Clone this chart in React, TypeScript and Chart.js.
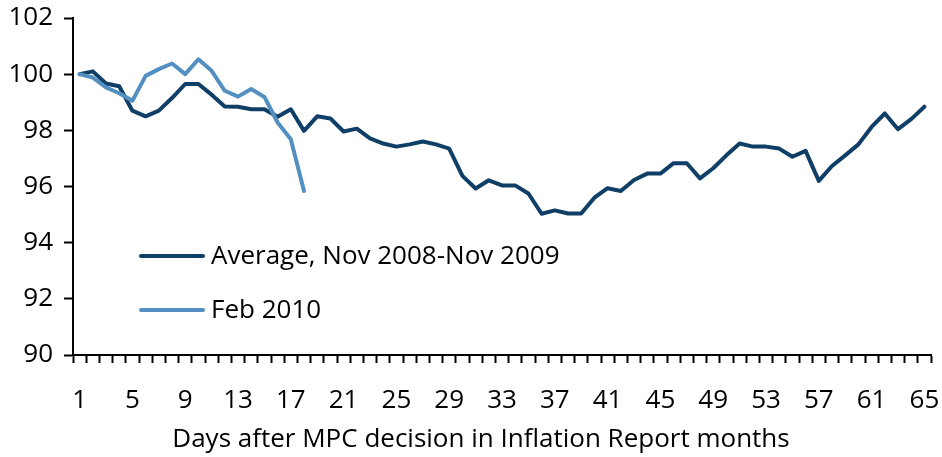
import React, { useEffect, useRef } from "react";
import { Chart, registerables } from "chart.js";

Chart.register(...registerables);

const days: string[] = Array.from({ length: 65 }, (_, i) => String(i + 1));
const xTitle = "Days after MPC decision in Inflation Report months";

const averageLabel = "Average, Nov 2008-Nov 2009";
const averageValues: number[] = [
  100, 100.1, 99.67, 99.57, 98.7, 98.5, 98.7, 99.15, 99.65, 99.65,
  99.27, 98.85, 98.84, 98.75, 98.75, 98.48, 98.75, 97.98, 98.5, 98.42,
  97.96, 98.06, 97.71, 97.53, 97.42, 97.5, 97.6, 97.5, 97.35, 96.38,
  95.93, 96.22, 96.04, 96.04, 95.75, 95.03, 95.15, 95.04, 95.04, 95.6,
  95.94, 95.84, 96.23, 96.46, 96.46, 96.83, 96.83, 96.29, 96.65, 97.11,
  97.53, 97.42, 97.42, 97.35, 97.06, 97.27, 96.2, 96.73, 97.11, 97.5,
  98.12, 98.6, 98.04, 98.4, 98.84,
];

const febLabel = "Feb 2010";
const febValues: number[] = [
  100, 99.88, 99.53, 99.32, 99.05, 99.94, 100.18, 100.38, 100.0, 100.53,
  100.12, 99.41, 99.2, 99.47, 99.19, 98.28, 97.68, 95.84,
];

const yMin = 90;
const yMax = 102;
const yStep = 2;

const DARK = "#0f3f66";
const LIGHT = "#5390c1";
const FONT = "'Open Sans', 'Noto Sans', sans-serif";

const legendPlugin = {
  id: "insideLegend",
  afterDraw(chart: any) {
    const ctx = chart.ctx;
    const area = chart.chartArea;
    const rows = [256, 310];
    ctx.save();
    chart.data.datasets.forEach((ds: any, i: number) => {
      const y = rows[i];
      const x0 = area.left + 68;
      ctx.strokeStyle = ds.borderColor;
      ctx.lineWidth = 4;
      ctx.lineCap = "round";
      ctx.beginPath();
      ctx.moveTo(x0, y);
      ctx.lineTo(x0 + 62, y);
      ctx.stroke();
      ctx.fillStyle = "#000";
      ctx.font = `26px ${FONT}`;
      ctx.textBaseline = "middle";
      ctx.textAlign = "left";
      ctx.fillText(ds.label, x0 + 70, y + 1);
    });
    // x-axis title, centred on the figure as in the reference
    ctx.font = `26px ${FONT}`;
    ctx.textAlign = "center";
    ctx.textBaseline = "alphabetic";
    ctx.fillStyle = "#000";
    ctx.fillText(xTitle, 481, 447);
    ctx.restore();
  },
};

export default function App() {
  const ref = useRef<HTMLCanvasElement>(null);
  useEffect(() => {
    const chart = new Chart(ref.current!, {
      type: "line",
      data: {
        labels: days,
        datasets: [
          {
            label: averageLabel,
            data: averageValues,
            borderColor: DARK,
            backgroundColor: DARK,
            borderWidth: 4,
            pointRadius: 0,
            tension: 0,
            borderJoinStyle: "round",
            borderCapStyle: "round",
            order: 1,
          },
          {
            label: febLabel,
            data: febValues,
            borderColor: LIGHT,
            backgroundColor: LIGHT,
            borderWidth: 4,
            pointRadius: 0,
            tension: 0,
            borderJoinStyle: "round",
            borderCapStyle: "round",
            order: 0,
          },
        ],
      },
      options: {
        animation: false,
        responsive: false,
        maintainAspectRatio: false,
        layout: { autoPadding: false, padding: { top: 18, right: 11, left: 0, bottom: 0 } },
        plugins: { legend: { display: false }, tooltip: { enabled: false } },
        scales: {
          x: {
            offset: true,
            grid: {
              offset: true,
              drawOnChartArea: false,
              drawTicks: true,
              tickLength: 8,
              tickWidth: 2,
              tickColor: "#000",
            },
            border: { display: true, color: "#000", width: 2 },
            ticks: {
              autoSkip: false,
              maxRotation: 0,
              padding: 22,
              color: "#000",
              font: { family: FONT, size: 26 },
              callback: (_v: any, i: number) => (i % 4 === 0 ? days[i] : ""),
            },
            title: { display: false },
            afterFit: (s: any) => {
              s.height = 102;
              s.paddingLeft = 0;
              s.paddingRight = 0;
            },
          },
          y: {
            min: yMin,
            max: yMax,
            grid: {
              drawOnChartArea: false,
              drawTicks: true,
              tickLength: 9,
              tickWidth: 2,
              tickColor: "#000",
            },
            border: { display: true, color: "#000", width: 2 },
            ticks: {
              stepSize: yStep,
              padding: 11,
              color: "#000",
              font: { family: FONT, size: 26 },
            },
            afterFit: (s: any) => {
              s.width = 73;
              s.paddingTop = 0;
              s.paddingBottom = 0;
            },
          },
        },
      },
      plugins: [legendPlugin],
    });
    return () => chart.destroy();
  }, []);
  return (
    <div style={{ position: "fixed", left: 0, top: 0, width: 942, height: 457, background: "#fff" }}>
      <canvas ref={ref} width={942} height={457} style={{ display: "block" }} />
    </div>
  );
}
